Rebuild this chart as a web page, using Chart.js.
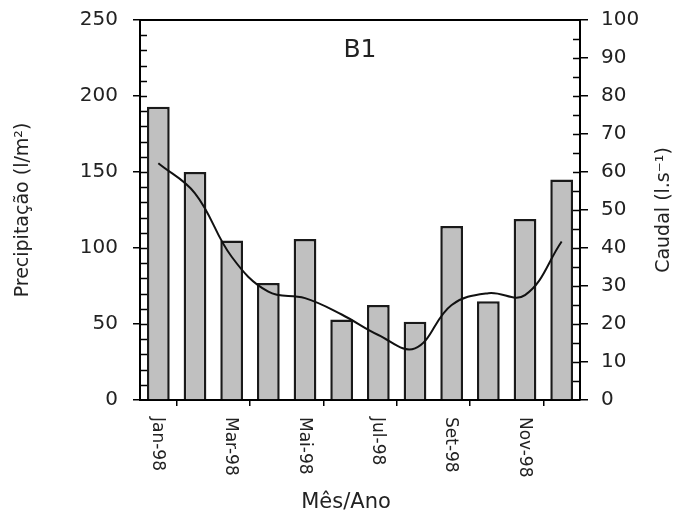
<!DOCTYPE html>
<html>
<head>
<meta charset="utf-8">
<title>B1 - Precipitação e Caudal</title>
<script src="https://cdn.jsdelivr.net/npm/chart.js@4.4.1/dist/chart.umd.min.js"></script>
<style>
  html, body { margin: 0; padding: 0; background: #fff; }
  #chartBox { width: 674px; height: 517px; }
</style>
</head>
<body>
<div id="chartBox"><canvas id="b1Chart" width="674" height="517"></canvas></div>
<script>
// Estação B1 - precipitação mensal (barras) e caudal (linha), 1998
const months = ['Jan-98', 'Fev-98', 'Mar-98', 'Abr-98', 'Mai-98', 'Jun-98',
                'Jul-98', 'Ago-98', 'Set-98', 'Out-98', 'Nov-98', 'Dez-98'];
const precipitation = [193, 150, 105, 77, 106, 53, 62.5, 51.5, 114.5, 65, 119, 145];
const discharge = [62.3, 54.4, 37.7, 28.5, 26.8, 22.5, 17.1, 13.6, 25, 28.1, 27.6, 41.7];

const stationName = 'B1';
const leftTitle = 'Precipitação (l/m²)';
const rightTitle = 'Caudal (l.s⁻¹)';
const xTitle = 'Mês/Ano';

const FONT = '"DejaVu Sans", sans-serif';
const TEXT = '#222';

// bits Chart.js can't do on its own: top frame, inner minor ticks,
// clockwise month labels, right-hand title reading upwards
const extras = {
    id: 'extras',
    afterDraw(chart) {
        const { ctx, chartArea: area, scales } = chart;
        ctx.save();
        ctx.strokeStyle = '#000';

        ctx.lineWidth = 2;
        ctx.beginPath();
        ctx.moveTo(area.left - 1, area.top);
        ctx.lineTo(area.right + 1, area.top);
        ctx.stroke();

        ctx.lineWidth = 1.5;
        ctx.beginPath();
        for (let v = 10; v < 250; v += 10) {
            const y = Math.round(scales.y.getPixelForValue(v)) + 0.5;
            ctx.moveTo(area.left, y);
            ctx.lineTo(area.left + 7, y);
        }
        for (let v = 5; v < 100; v += 5) {
            const y = Math.round(scales.y1.getPixelForValue(v)) + 0.5;
            ctx.moveTo(area.right, y);
            ctx.lineTo(area.right - 7, y);
        }
        ctx.stroke();

        ctx.fillStyle = TEXT;
        ctx.textBaseline = 'middle';

        ctx.font = '25px ' + FONT;
        ctx.textAlign = 'center';
        ctx.fillText(stationName, (area.left + area.right) / 2, 50);

        ctx.font = '17px ' + FONT;
        ctx.textAlign = 'left';
        months.forEach((m, i) => {
            if (i % 2) return;
            const x = scales.x.getPixelForValue(i) - 1;
            ctx.save();
            ctx.translate(x, area.bottom + 17);
            ctx.rotate(Math.PI / 2);
            ctx.fillText(m, 0, 0);
            ctx.restore();
        });

        ctx.font = '21px ' + FONT;
        ctx.textAlign = 'center';
        ctx.fillText(xTitle, 346, 503);

        ctx.save();
        ctx.translate(664, (area.top + area.bottom) / 2);
        ctx.rotate(-Math.PI / 2);
        ctx.font = '19px ' + FONT;
        ctx.fillText(rightTitle, 0, 0);
        ctx.restore();

        ctx.restore();
    }
};

// fixed axis boxes so the plot area lands where the original has it
function fixWidth(w) {
    return s => {
        s.width = w;
        s.paddingTop = 10;
        s.paddingBottom = 10;
    };
}

const canvas = document.getElementById('b1Chart');
const ctx = canvas.getContext('2d');

new Chart(ctx, {
    type: 'bar',
    data: {
        labels: months,
        datasets: [
            {
                type: 'line',
                label: 'Caudal',
                data: discharge,
                xAxisID: 'x',
                yAxisID: 'y1',
                borderColor: '#111',
                borderWidth: 2,
                pointRadius: 0,
                tension: 0.4,
                fill: false,
                order: 0
            },
            {
                type: 'bar',
                label: 'Precipitação',
                data: precipitation,
                xAxisID: 'x',
                yAxisID: 'y',
                backgroundColor: '#c0c0c0',
                borderColor: '#1a1a1a',
                borderWidth: 2.5,
                barPercentage: 0.62,
                categoryPercentage: 1,
                order: 1
            }
        ]
    },
    options: {
        responsive: false,
        animation: false,
        layout: { padding: { top: 20, left: 0, right: 0, bottom: 0 } },
        plugins: {
            legend: { display: false },
            tooltip: { enabled: false }
        },
        scales: {
            x: { display: false, offset: true },
            x2: {
                type: 'linear',
                position: 'bottom',
                min: 0,
                max: 12,
                offset: false,
                afterFit: s => { s.height = 117; },
                ticks: { display: false, stepSize: 2 },
                grid: { drawOnChartArea: false, tickLength: 6, color: '#000', lineWidth: 1.5 },
                border: { color: '#000', width: 2 }
            },
            y: {
                position: 'left',
                min: 0,
                max: 250,
                afterFit: fixWidth(140),
                ticks: { stepSize: 50, padding: 15, color: TEXT, font: { family: FONT, size: 20 } },
                grid: { drawOnChartArea: false, tickLength: 7, color: '#000', lineWidth: 1.5 },
                border: { color: '#000', width: 2 },
                title: {
                    display: true,
                    text: leftTitle,
                    color: TEXT,
                    font: { family: FONT, size: 19 },
                    padding: { top: 12, bottom: 0 }
                }
            },
            y1: {
                position: 'right',
                min: 0,
                max: 100,
                afterFit: fixWidth(94),
                ticks: { stepSize: 10, padding: 13, color: TEXT, font: { family: FONT, size: 20 } },
                grid: { drawOnChartArea: false, tickLength: 8, color: '#000', lineWidth: 1.5 },
                border: { color: '#000', width: 2 }
            }
        }
    },
    plugins: [extras]
});
</script>
</body>
</html>
